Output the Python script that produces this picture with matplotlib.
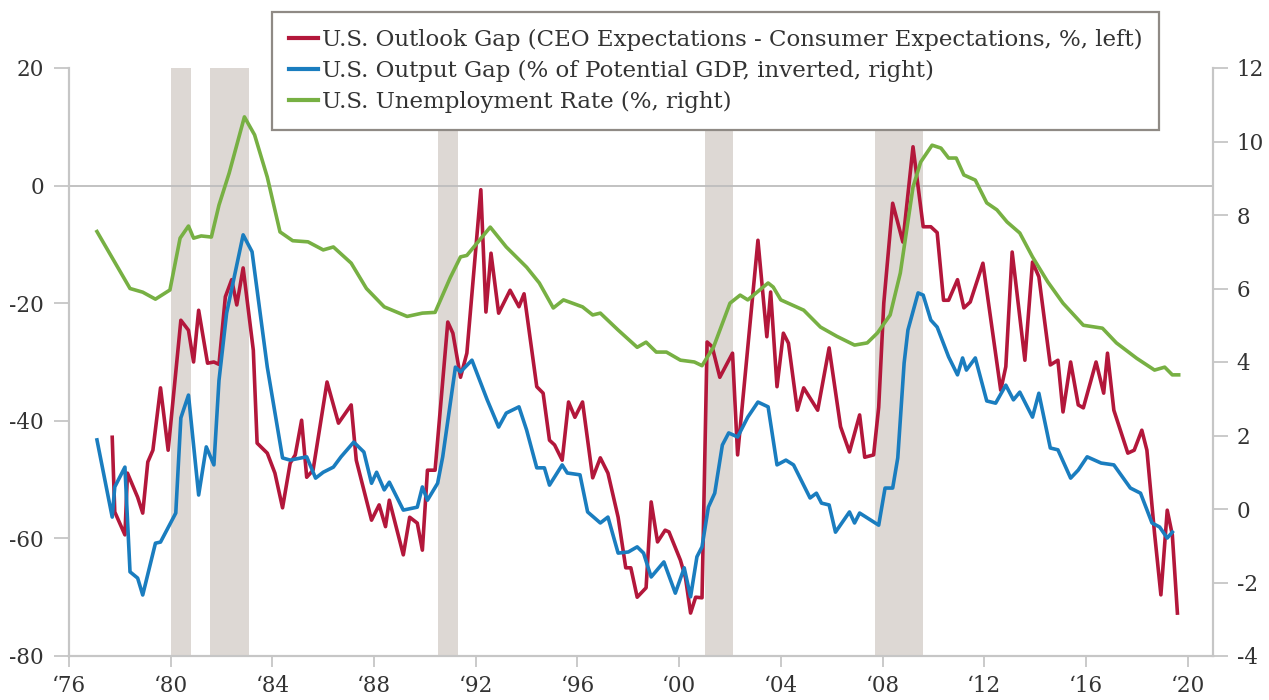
import matplotlib.pyplot as plt
from matplotlib.lines import Line2D

plt.rcParams['font.family'] = ['DejaVu Serif']
plt.rcParams['axes.unicode_minus'] = False

# Outlook gap (CEO - consumer expectations, left axis)
gap_years = [1977.7, 1977.8, 1978.2, 1978.3, 1978.7, 1978.9, 1979.1, 1979.3, 1979.6, 1979.9,
             1980.4, 1980.7, 1980.9, 1981.1, 1981.45, 1981.7, 1981.9, 1982.15, 1982.4, 1982.6,
             1982.85, 1983.25, 1983.4, 1983.8, 1984.1, 1984.4, 1984.7, 1984.9, 1985.15, 1985.35,
             1985.6, 1986.15, 1986.6, 1987.1, 1987.3, 1987.9, 1988.2, 1988.45, 1988.6, 1989.15,
             1989.4, 1989.7, 1989.9, 1990.1, 1990.4, 1990.9, 1991.1, 1991.4, 1991.65, 1992.2,
             1992.4, 1992.6, 1992.9, 1993.35, 1993.7, 1993.9, 1994.4, 1994.65, 1994.9, 1995.1,
             1995.4, 1995.65, 1995.9, 1996.2, 1996.6, 1996.9, 1997.2, 1997.6, 1997.9, 1998.1,
             1998.35, 1998.7, 1998.9, 1999.15, 1999.45, 1999.6, 2000.05, 2000.25, 2000.45, 2000.65,
             2000.9, 2001.1, 2001.3, 2001.6, 2002.1, 2002.3, 2003.1, 2003.45, 2003.6, 2003.85,
             2004.1, 2004.3, 2004.65, 2004.9, 2005.45, 2005.9, 2006.35, 2006.7, 2007.1, 2007.3,
             2007.65, 2007.85, 2008.05, 2008.4, 2008.8, 2009.2, 2009.6, 2009.9, 2010.15, 2010.4,
             2010.6, 2010.95, 2011.2, 2011.45, 2011.95, 2012.65, 2012.85, 2013.1, 2013.6, 2013.9,
             2014.15, 2014.6, 2014.9, 2015.1, 2015.4, 2015.7, 2015.9, 2016.4, 2016.7, 2016.85,
             2017.1, 2017.65, 2017.9, 2018.2, 2018.4, 2018.7, 2018.95, 2019.2, 2019.4, 2019.6]
gap_vals = [-42.8, -55.5, -59.4, -48.9, -53, -55.7, -47, -45, -34.4, -45,
            -22.9, -24.6, -30, -21.2, -30.2, -30, -30.4, -18.9, -16, -20.3,
            -14, -28, -43.8, -45.5, -48.9, -54.8, -47.2, -45.8, -39.9, -49.6,
            -48.4, -33.4, -40.4, -37.3, -46.7, -56.9, -54.3, -58, -53.5, -62.8,
            -56.4, -57.4, -62, -48.4, -48.4, -23.2, -25.1, -32.6, -28.5, -0.7,
            -21.5, -11.5, -21.7, -17.8, -20.6, -18.4, -34.2, -35.3, -43.3, -44.1,
            -46.7, -36.8, -39.4, -36.8, -49.7, -46.3, -48.9, -56.4, -65, -65,
            -70, -68.4, -53.8, -60.6, -58.6, -58.9, -63.7, -66.7, -72.7, -70,
            -70.1, -26.6, -27.4, -32.6, -28.5, -45.8, -9.3, -25.7, -18.1, -34.2,
            -25.1, -26.8, -38.2, -34.4, -38.2, -27.6, -41, -45.3, -39, -46.2,
            -45.8, -37.7, -20, -3, -9.6, 6.6, -7, -7, -8, -19.5,
            -19.5, -16, -20.8, -19.8, -13.2, -34.8, -30.8, -11.3, -29.7, -13,
            -15.5, -30.5, -29.7, -38.5, -30, -37.3, -37.8, -30, -35.3, -28.5,
            -38.2, -45.5, -45, -41.6, -45, -59.1, -69.6, -55.2, -59.4, -72.7]

# Output gap (% of potential GDP, inverted, right axis)
output_years = [1977.1, 1977.7, 1977.8, 1978.2, 1978.4, 1978.7, 1978.9, 1979.4, 1979.6, 1980.2,
                1980.4, 1980.7, 1981.1, 1981.4, 1981.7, 1981.9, 1982.2, 1982.85, 1983.2, 1983.8,
                1984.4, 1984.7, 1985.35, 1985.7, 1986.0, 1986.4, 1986.7, 1987.2, 1987.6, 1987.9,
                1988.1, 1988.4, 1988.6, 1989.15, 1989.7, 1989.9, 1990.1, 1990.5, 1990.7, 1991.2,
                1991.4, 1991.85, 1992.45, 1992.9, 1993.2, 1993.7, 1994.0, 1994.4, 1994.7, 1994.9,
                1995.4, 1995.6, 1996.1, 1996.4, 1996.9, 1997.2, 1997.6, 1998.0, 1998.35, 1998.6,
                1998.9, 1999.4, 1999.85, 2000.2, 2000.45, 2000.7, 2000.9, 2001.15, 2001.4, 2001.7,
                2001.95, 2002.3, 2002.7, 2003.1, 2003.5, 2003.85, 2004.2, 2004.5, 2005.15, 2005.4,
                2005.6, 2005.9, 2006.15, 2006.7, 2006.9, 2007.1, 2007.85, 2008.1, 2008.4, 2008.6,
                2008.85, 2009.0, 2009.4, 2009.6, 2009.9, 2010.15, 2010.6, 2010.95, 2011.15, 2011.3,
                2011.65, 2012.1, 2012.45, 2012.85, 2013.15, 2013.4, 2013.9, 2014.15, 2014.6, 2014.9,
                2015.4, 2015.7, 2016.05, 2016.6, 2017.1, 2017.75, 2018.15, 2018.6, 2018.9, 2019.2,
                2019.4]
output_vals = [1.88, -0.22, 0.6, 1.14, -1.71, -1.88, -2.34, -0.93, -0.9, -0.11,
               2.48, 3.1, 0.38, 1.69, 1.2, 3.5, 5.33, 7.46, 7.0, 3.86,
               1.39, 1.33, 1.42, 0.84, 1.0, 1.14, 1.42, 1.82, 1.55, 0.7,
               1.0, 0.52, 0.73, -0.03, 0.05, 0.6, 0.24, 0.7, 1.42, 3.86,
               3.73, 4.05, 2.97, 2.23, 2.61, 2.78, 2.15, 1.12, 1.12, 0.65,
               1.2, 0.98, 0.93, -0.08, -0.38, -0.22, -1.2, -1.17, -1.03, -1.2,
               -1.85, -1.44, -2.29, -1.6, -2.39, -1.3, -1.03, 0.05, 0.43, 1.74,
               2.07, 1.96, 2.5, 2.91, 2.78, 1.2, 1.33, 1.2, 0.3, 0.43,
               0.16, 0.11, -0.63, -0.08, -0.38, -0.11, -0.44, 0.57, 0.57, 1.39,
               3.97, 4.87, 5.88, 5.82, 5.14, 4.95, 4.14, 3.65, 4.11, 3.78,
               4.11, 2.94, 2.88, 3.37, 2.97, 3.18, 2.5, 3.15, 1.66, 1.61,
               0.84, 1.06, 1.42, 1.25, 1.2, 0.57, 0.43, -0.38, -0.49, -0.79,
               -0.63]

# Unemployment rate (%, right axis)
unemp_years = [1977.1, 1978.4, 1978.9, 1979.4, 1979.97, 1980.37, 1980.7, 1980.9, 1981.2, 1981.6,
               1981.9, 1982.3, 1982.9, 1983.3, 1983.8, 1984.3, 1984.8, 1985.4, 1986.0, 1986.4,
               1987.1, 1987.7, 1988.4, 1989.3, 1989.9, 1990.4, 1991.0, 1991.4, 1991.65, 1992.57,
               1993.2, 1994.0, 1994.5, 1995.05, 1995.45, 1996.2, 1996.6, 1996.9, 1997.6, 1998.35,
               1998.7, 1999.1, 1999.5, 2000.05, 2000.6, 2000.9, 2001.35, 2002.0, 2002.4, 2002.7,
               2003.5, 2003.7, 2004.0, 2004.9, 2005.56, 2006.2, 2006.9, 2007.4, 2007.8, 2008.3,
               2008.7, 2009.2, 2009.5, 2009.95, 2010.3, 2010.6, 2010.9, 2011.2, 2011.65, 2012.1,
               2012.5, 2012.9, 2013.4, 2013.9, 2014.5, 2015.1, 2015.9, 2016.65, 2017.2, 2018.0,
               2018.7, 2019.1, 2019.4, 2019.65]
unemp_vals = [7.55, 6.0, 5.9, 5.71, 5.96, 7.37, 7.7, 7.37, 7.43, 7.4,
              8.27, 9.14, 10.67, 10.18, 9.03, 7.54, 7.3, 7.27, 7.05, 7.13,
              6.69, 6.0, 5.5, 5.24, 5.33, 5.35, 6.3, 6.86, 6.9, 7.67,
              7.13, 6.58, 6.15, 5.47, 5.69, 5.5, 5.28, 5.33, 4.87, 4.4,
              4.54, 4.27, 4.27, 4.05, 4.0, 3.9, 4.4, 5.6, 5.82, 5.69,
              6.15, 6.04, 5.69, 5.41, 4.95, 4.7, 4.46, 4.52, 4.79, 5.28,
              6.42, 8.76, 9.44, 9.9, 9.82, 9.55, 9.55, 9.09, 8.95, 8.33,
              8.14, 7.81, 7.51, 6.86, 6.18, 5.6, 5.0, 4.92, 4.52, 4.1,
              3.78, 3.86, 3.65, 3.65]

# Recession periods
rec_start = [1980.0, 1981.55, 1990.5, 2001.0, 2007.7]
rec_end = [1980.8, 1983.1, 1991.3, 2002.1, 2009.6]

x_ticks = list(range(1976, 2021, 4))
x_labels = ['\u2018' + str(y)[2:] for y in x_ticks]

red = '#b3173b'
blue = '#1a7dbf'
green = '#77b043'
axis_gray = '#c6c6c6'
text_col = '#333333'

fig = plt.figure(figsize=(12.69, 7), dpi=100)
ax = fig.add_axes([69 / 1269, 44 / 700, (1213 - 69) / 1269, (656 - 68) / 700])
ax2 = ax.twinx()

for s, e in zip(rec_start, rec_end):
    ax.axvspan(s, e, color='#ddd8d4', lw=0, zorder=0)
ax.axhline(0, color='#bdbdbd', lw=1.3, zorder=1)

ax.plot(gap_years, gap_vals, color=red, lw=2.6, zorder=3)
ax2.plot(output_years, output_vals, color=blue, lw=2.6)
ax2.plot(unemp_years, unemp_vals, color=green, lw=2.6)

ax.set_xlim(1976, 2021)
ax.set_ylim(-80, 20)
ax2.set_ylim(-4, 12)
ax.set_yticks(range(-80, 21, 20))
ax2.set_yticks(range(-4, 13, 2))
ax.set_xticks(x_ticks)
ax.set_xticklabels(x_labels)

for a in (ax, ax2):
    a.spines['top'].set_visible(False)
    for side in ('left', 'right', 'bottom'):
        a.spines[side].set_color(axis_gray)
        a.spines[side].set_linewidth(1.5)

ax.tick_params(axis='y', length=11, width=1.3, color=axis_gray, labelsize=15.5,
               labelcolor=text_col, pad=7)
ax2.tick_params(axis='y', length=11, width=1.3, color=axis_gray, labelsize=15.5,
                labelcolor=text_col, pad=6)
ax.tick_params(axis='x', length=8, width=1.3, color=axis_gray, labelsize=15.5,
               labelcolor=text_col, pad=6)

handles = [Line2D([], [], color=red, lw=3),
           Line2D([], [], color=blue, lw=3),
           Line2D([], [], color=green, lw=3)]
labels = ['U.S. Outlook Gap (CEO Expectations - Consumer Expectations, %, left)',
          'U.S. Output Gap (% of Potential GDP, inverted, right)',
          'U.S. Unemployment Rate (%, right)']
leg = fig.legend(handles, labels, loc='upper left', bbox_to_anchor=(272 / 1269, 1 - 12 / 700),
                 fontsize=16.5, frameon=True, fancybox=False, framealpha=1,
                 handlelength=1.3, handletextpad=0.15, labelspacing=0.4, borderpad=0.72,
                 borderaxespad=0, edgecolor='#8f8a85', labelcolor=text_col)
leg.get_frame().set_linewidth(1.6)

fig.savefig('out.png', dpi=100)
